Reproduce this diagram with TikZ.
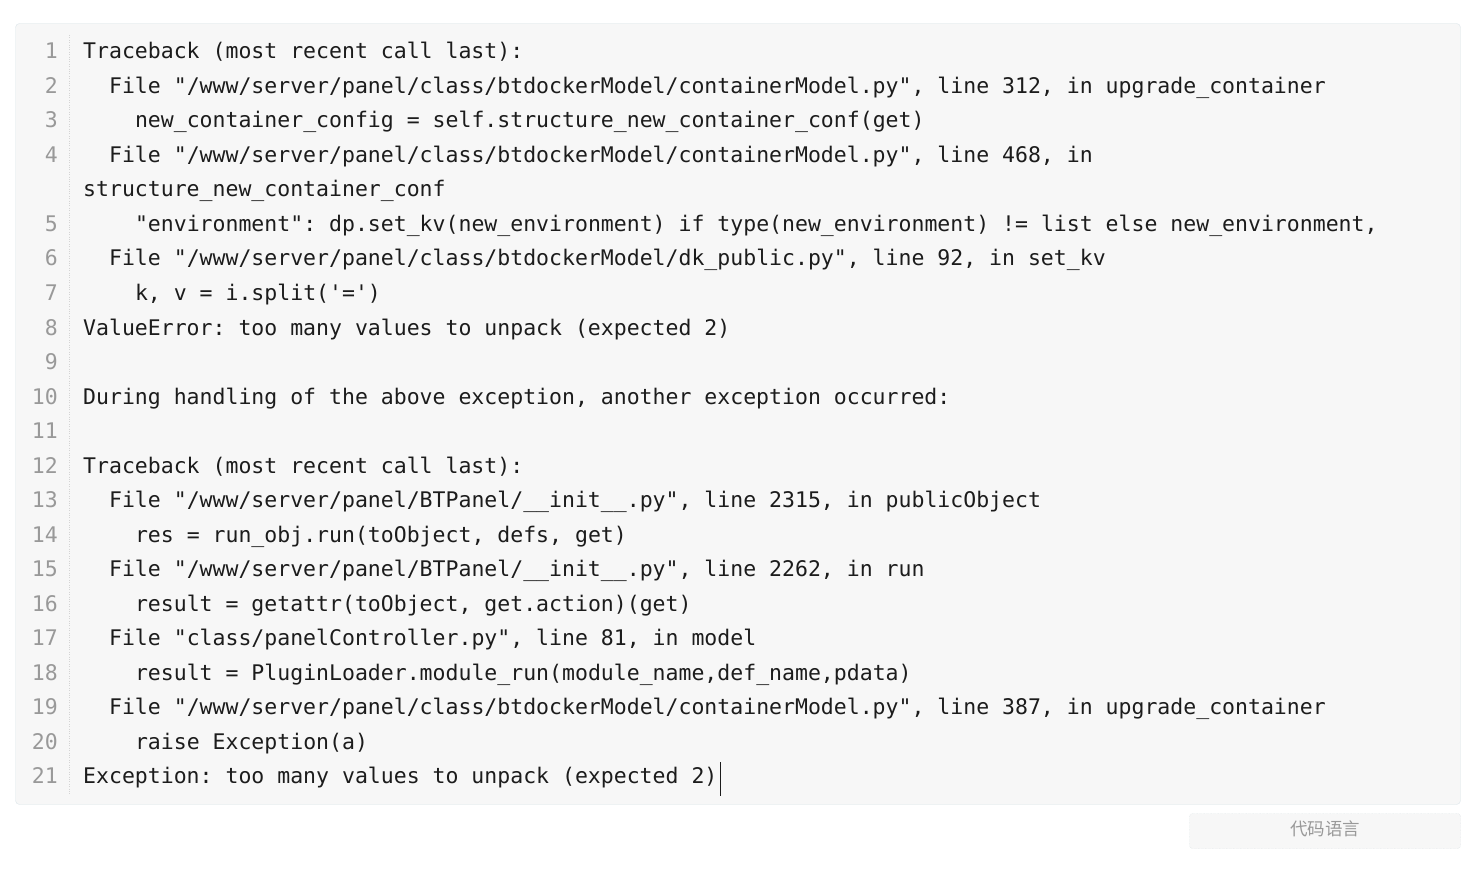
\documentclass[tikz,border=0pt]{standalone}
\usepackage{fontspec}
\setmonofont{DejaVu Sans Mono}
\newfontfamily\cjkfont{Noto Sans CJK SC}
\usetikzlibrary{positioning}

\definecolor{boxfill}{HTML}{F7F7F7}
\definecolor{boxline}{HTML}{DCE6EA}
\definecolor{btnline}{HTML}{CCD6DA}
\definecolor{codetext}{HTML}{1C1C1C}
\definecolor{linenum}{HTML}{999999}
\definecolor{gutter}{HTML}{D4D4D4}

\begin{document}
\begin{tikzpicture}
        [
            x = 1pt, y = -1pt,
            panel/.style = {draw=boxline, fill=boxfill, rounded corners=4pt},
            langbtn/.style = {draw=btnline, densely dotted, fill=boxfill, rounded corners=3pt},
            code/.style = {
                anchor=base west, inner sep=0pt, text=codetext,
                font=\ttfamily\fontsize{21.5}{25}\selectfont},
            lineno/.style = {
                anchor=base east, inner sep=0pt, text=linenum,
                font=\ttfamily\fontsize{21.5}{25}\selectfont}
        ]
        \useasboundingbox [fill=white] (0,0) rectangle (1476,869);
        % code panel and gutter
        \draw [panel] (15.5,23.5) rectangle (1460.5,804.5);
        \coordinate (gtop) at (69,35);
        \coordinate (gbot) at (69,795);
        \draw [gutter, dotted] (gtop) -- (gbot);
        % line numbers (line 4 wraps, so lines from 5 on move down one row)
        \foreach \n in {1,...,21} {
            \pgfmathsetmacro\row{\n<5 ? \n-1 : \n}
            \node [lineno] (n\n) at (58, 59+34.5*\row) {\n};
        }
        \node [code] (t1) at (83,0 |- n1.base) {Traceback (most recent call last):};
        \node [code] (t2) at (108.9,0 |- n2.base) {File "/www/server/panel/class/btdockerModel/containerModel.py", line 312, in upgrade\_container};
        \node [code] (t3) at (134.8,0 |- n3.base) {new\_container\_config = self.structure\_new\_container\_conf(get)};
        \node [code] (t4) at (108.9,0 |- n4.base) {File "/www/server/panel/class/btdockerModel/containerModel.py", line 468, in};
        \node [code] (t4b) at (83,197) {structure\_new\_container\_conf};
        \node [code] (t5) at (134.8,0 |- n5.base) {"environment": dp.set\_kv(new\_environment) if type(new\_environment) != list else new\_environment,};
        \node [code] (t6) at (108.9,0 |- n6.base) {File "/www/server/panel/class/btdockerModel/dk\_public.py", line 92, in set\_kv};
        \node [code] (t7) at (134.8,0 |- n7.base) {k, v = i.split('=')};
        \node [code] (t8) at (83,0 |- n8.base) {ValueError: too many values to unpack (expected 2)};
        \node [code] (t10) at (83,0 |- n10.base) {During handling of the above exception, another exception occurred:};
        \node [code] (t12) at (83,0 |- n12.base) {Traceback (most recent call last):};
        \node [code] (t13) at (108.9,0 |- n13.base) {File "/www/server/panel/BTPanel/\_\_init\_\_.py", line 2315, in publicObject};
        \node [code] (t14) at (134.8,0 |- n14.base) {res = run\_obj.run(toObject, defs, get)};
        \node [code] (t15) at (108.9,0 |- n15.base) {File "/www/server/panel/BTPanel/\_\_init\_\_.py", line 2262, in run};
        \node [code] (t16) at (134.8,0 |- n16.base) {result = getattr(toObject, get.action)(get)};
        \node [code] (t17) at (108.9,0 |- n17.base) {File "class/panelController.py", line 81, in model};
        \node [code] (t18) at (134.8,0 |- n18.base) {result = PluginLoader.module\_run(module\_name,def\_name,pdata)};
        \node [code] (t19) at (108.9,0 |- n19.base) {File "/www/server/panel/class/btdockerModel/containerModel.py", line 387, in upgrade\_container};
        \node [code] (t20) at (134.8,0 |- n20.base) {raise Exception(a)};
        \node [code] (t21) at (83,0 |- n21.base) {Exception: too many values to unpack (expected 2)};
        % text cursor
        \coordinate (cur) at ([xshift=3pt]t21.base east);
        \draw [line width=1.2pt, codetext] ([yshift=-12pt]cur) -- ([yshift=22pt]cur);
        % language button
        \draw [langbtn] (1189.5,813.5) rectangle (1460.5,848.5);
        \node [text=linenum, font=\cjkfont\fontsize{17.5}{19}\selectfont] (lang) at (1325,829) {代码语言};
    \end{tikzpicture}
\end{document}
